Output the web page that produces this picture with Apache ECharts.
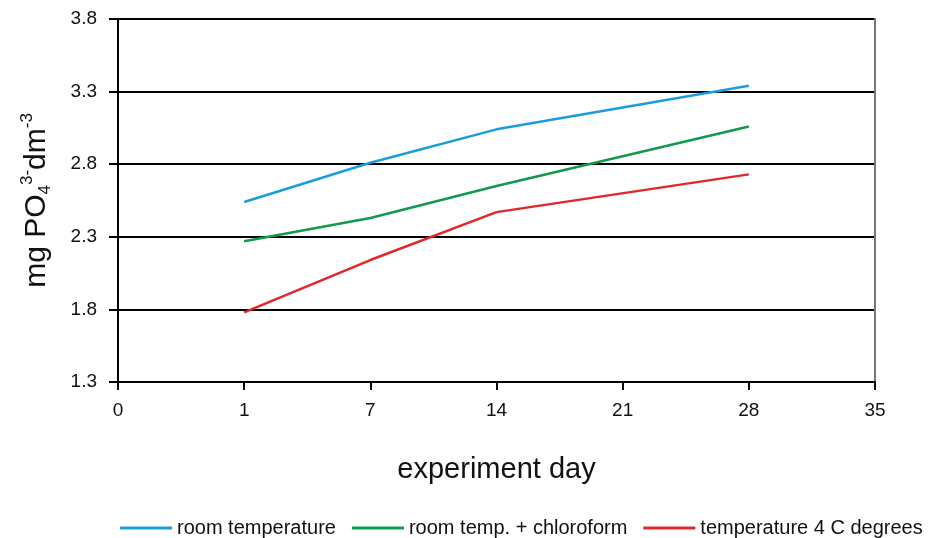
<!DOCTYPE html>
<html>
<head>
<meta charset="utf-8">
<script src="https://cdn.jsdelivr.net/npm/echarts@6/dist/echarts.min.js"></script>
<style>
html,body{margin:0;padding:0;background:#fff;}
#chart{width:931px;height:538px;}
</style>
</head>
<body>
<div id="chart"></div>
<script>
const days = ['0', '1', '7', '14', '21', '28', '35'];
const roomTemperature = [null, 2.54, 2.81, 3.04, null, 3.34, null];
const roomTempChloroform = [null, 2.27, 2.43, 2.65, null, 3.06, null];
const temperature4C = [null, 1.78, 2.14, 2.47, null, 2.73, null];
const seriesNames = ['room temperature', 'room temp. + chloroform', 'temperature 4 C degrees'];
const seriesColors = ['#1b9ddd', '#109a4a', '#e0282a'];

const FONT = '"Liberation Sans", Arial, sans-serif';
const chart = echarts.init(document.getElementById('chart'));

function lineSeries(name, data, color) {
  return {
    name: name,
    type: 'line',
    data: data,
    connectNulls: true,
    symbol: 'none',
    lineStyle: { color: color, width: 2.5 },
    itemStyle: { color: color },
    animation: false
  };
}

chart.setOption({
  animation: false,
  backgroundColor: '#fff',
  grid: { left: 118, right: 56, top: 19, bottom: 156, containLabel: false },
  legend: {
    top: 513,
    left: 115,
    icon: 'rect',
    itemWidth: 52,
    itemHeight: 3,
    itemGap: 16,
    textStyle: { fontFamily: FONT, fontSize: 20, color: '#111' },
    data: seriesNames
  },
  xAxis: {
    type: 'category',
    data: days,
    boundaryGap: false,
    name: 'experiment day',
    nameLocation: 'middle',
    nameGap: 73,
    nameTextStyle: { fontFamily: FONT, fontSize: 29, color: '#111' },
    axisLine: { lineStyle: { color: '#000', width: 2 } },
    axisTick: { show: true, length: 8, lineStyle: { color: '#000', width: 2 }, alignWithLabel: true },
    axisLabel: { fontFamily: FONT, fontSize: 19, color: '#111', margin: 19 },
    splitLine: { show: false }
  },
  yAxis: [{
    type: 'value',
    min: 1.3,
    max: 3.8,
    interval: 0.5,
    name: '{m|mg PO}{sub|4}{sup|3-}{m|dm}{sup|-3}',
    nameLocation: 'middle',
    nameRotate: 90,
    nameGap: 61,
    nameTextStyle: {
      fontFamily: FONT,
      color: '#111',
      rich: {
        m: { fontFamily: FONT, fontSize: 30, color: '#111', lineHeight: 40, verticalAlign: 'middle' },
        sub: { fontFamily: FONT, fontSize: 17, color: '#111', lineHeight: 40, verticalAlign: 'bottom', padding: [0, 0, 3, 0] },
        sup: { fontFamily: FONT, fontSize: 17, color: '#111', lineHeight: 40, verticalAlign: 'top', padding: [2, 0, 0, 0] }
      }
    },
    axisLine: { show: true, lineStyle: { color: '#000', width: 2 } },
    axisTick: { show: true, length: 9, lineStyle: { color: '#000', width: 2 } },
    axisLabel: {
      fontFamily: FONT, fontSize: 19, color: '#111', margin: 21,
      formatter: function (v) { return v.toFixed(1); }
    },
    splitLine: { show: true, lineStyle: { color: '#000', width: 2 } }
  }, {
    type: 'value',
    position: 'right',
    min: 1.3,
    max: 3.8,
    interval: 0.5,
    axisLine: { show: true, lineStyle: { color: '#777', width: 2 } },
    axisTick: { show: false },
    axisLabel: { show: false },
    splitLine: { show: false }
  }],
  series: [
    lineSeries(seriesNames[0], roomTemperature, seriesColors[0]),
    lineSeries(seriesNames[1], roomTempChloroform, seriesColors[1]),
    lineSeries(seriesNames[2], temperature4C, seriesColors[2])
  ]
});
</script>
</body>
</html>
